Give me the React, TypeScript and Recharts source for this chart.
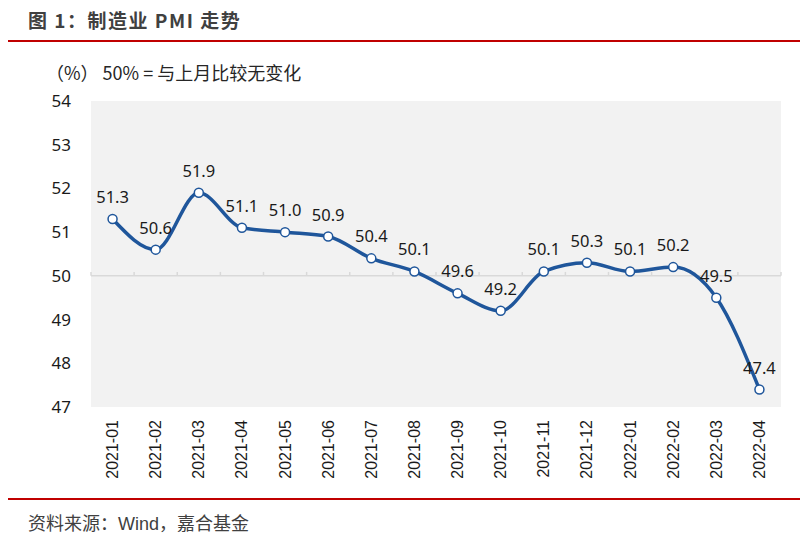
import { CartesianGrid, LabelList, Line, LineChart, ReferenceLine, XAxis, YAxis } from "recharts";

document.body.style.margin = "0";

const months = [
	"2021-01", "2021-02", "2021-03", "2021-04", "2021-05", "2021-06", "2021-07", "2021-08",
	"2021-09", "2021-10", "2021-11", "2021-12", "2022-01", "2022-02", "2022-03", "2022-04",
];
const pmi = [51.3, 50.6, 51.9, 51.1, 51.0, 50.9, 50.4, 50.1, 49.6, 49.2, 50.1, 50.3, 50.1, 50.2, 49.5, 47.4];
const yTicks = [47, 48, 49, 50, 51, 52, 53, 54];

const data = months.map((m, i) => ({ i, month: m, pmi: pmi[i] }));
const boundaries = months.map((_, i) => i - 0.5).concat([months.length - 0.5]);

const CJK = '"Noto Sans CJK SC", "Noto Sans", sans-serif';

const MonthTick = ({ x, y, payload }: any) => (
	<text
		x={x}
		y={y}
		transform={`rotate(-90, ${x}, ${y})`}
		textAnchor="end"
		dominantBaseline="central"
		fontSize={16}
		fontFamily='"Liberation Sans", Arial, sans-serif'
		fill="#1a1a1a"
	>
		{months[payload.value]}
	</text>
);

const App = () => {
	return (
		<div style={{ position: "relative", width: 800, height: 538, background: "#fff", overflow: "hidden" }}>
			<div
				style={{
					position: "absolute", left: 28, top: 6, fontFamily: CJK, fontWeight: 700,
					fontSize: 19, color: "#404040", letterSpacing: 1.5,
				}}
			>
				图 1：制造业 PMI 走势
			</div>
			<div style={{ position: "absolute", left: 8, right: 0, top: 40, height: 2, background: "#c00000" }} />
			<div
				style={{ position: "absolute", left: 46, top: 59, fontFamily: CJK, fontSize: 18, color: "#262626" }}
			>
				（%） 50% = 与上月比较无变化
			</div>
			<div style={{ position: "absolute", left: 0, top: 0 }}>
				<LineChart width={800} height={538} data={data} margin={{ top: 101, right: 19, bottom: 51, left: 31 }}>
					<CartesianGrid horizontal={false} vertical={false} fill="#f2f2f2" />
					<XAxis
						dataKey="i"
						type="number"
						domain={[-0.5, months.length - 0.5]}
						ticks={data.map((d) => d.i)}
						interval={0}
						height={80}
						axisLine={false}
						tickLine={false}
						tickSize={0}
						tickMargin={13}
						tick={<MonthTick />}
					/>
					<YAxis
						width={60}
						domain={[47, 54]}
						ticks={yTicks}
						axisLine={false}
						tickLine={false}
						tickSize={0}
						tickMargin={20}
						tick={{ fontSize: 17, fill: "#1a1a1a", fontFamily: '"Noto Sans", sans-serif' }}
					/>
					<ReferenceLine y={50} stroke="#d9d9d9" strokeWidth={1.5} />
					{boundaries.map((b) => (
						<ReferenceLine
							key={b}
							segment={[{ x: b, y: 50 }, { x: b, y: 50.09 }]}
							stroke="#d9d9d9"
							strokeWidth={1.5}
						/>
					))}
					<Line
						type="monotone"
						dataKey="pmi"
						stroke="#1f569b"
						strokeWidth={3.5}
						dot={{ r: 4.5, fill: "#fff", stroke: "#1f569b", strokeWidth: 1.5 }}
						isAnimationActive={false}
					>
						<LabelList
							dataKey="pmi"
							position="top"
							offset={16}
							formatter={(v: any) => Number(v).toFixed(1)}
							style={{ fontSize: 16.5, fill: "#1a1a1a", fontFamily: '"Noto Sans", sans-serif' }}
						/>
					</Line>
				</LineChart>
			</div>
			<div style={{ position: "absolute", left: 8, right: 0, top: 498, height: 2, background: "#c00000" }} />
			<div
				style={{
					position: "absolute", left: 28, top: 509, fontSize: 18, color: "#404040",
					fontFamily: '"Liberation Serif", "Noto Sans CJK SC", serif',
				}}
			>
				资料来源：<span style={{ fontFamily: '"Liberation Sans", sans-serif' }}>Wind</span>，嘉合基金
			</div>
		</div>
	);
};

export default App;
